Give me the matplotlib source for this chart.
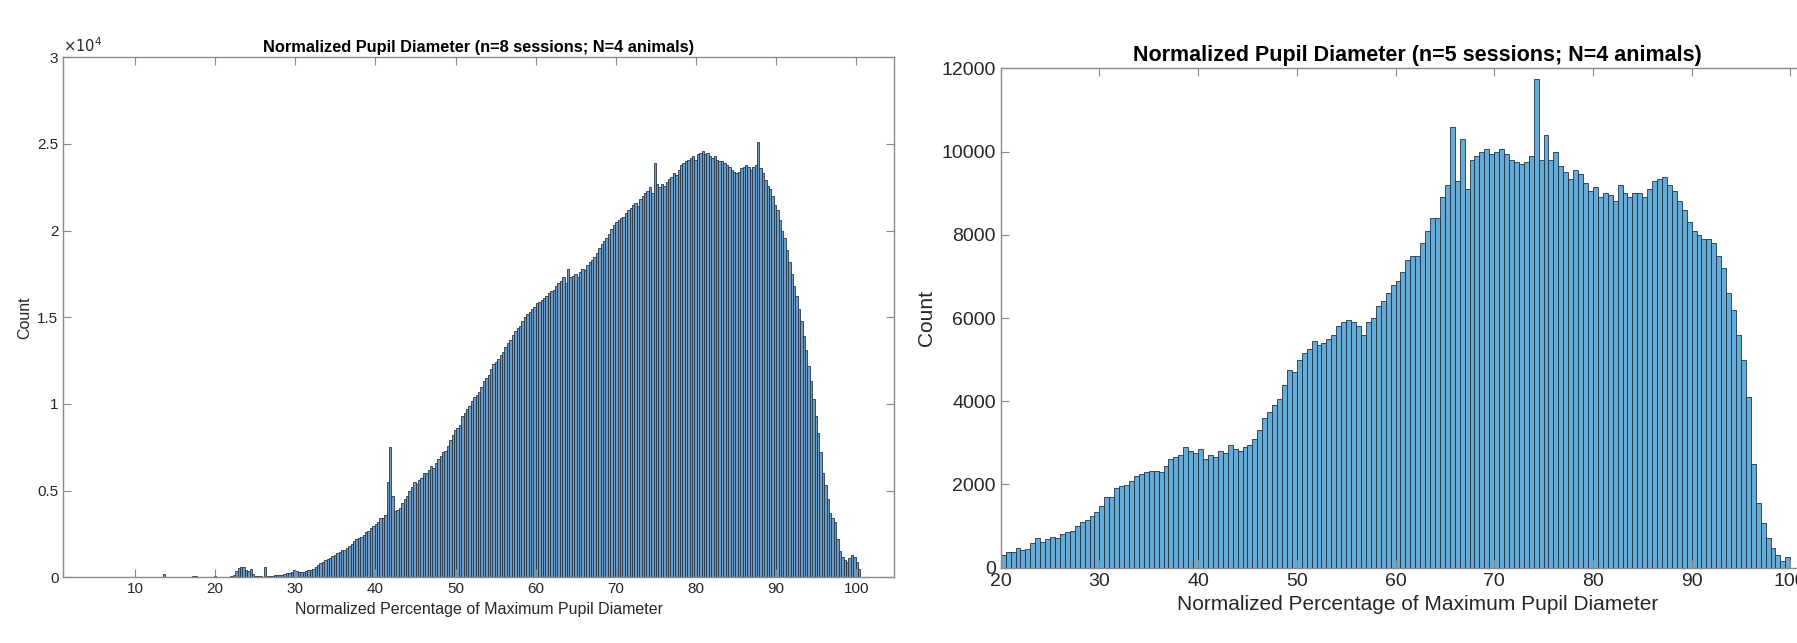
import matplotlib

matplotlib.use("Agg")
import matplotlib.pyplot as plt
import numpy as np
from matplotlib.ticker import FuncFormatter

plt.rcParams["font.family"] = ["Liberation Sans", "DejaVu Sans"]

# ---- left panel: n=8 sessions, bin width 0.3 starting at 22.2 ----
left_start = 22.2
left_width = 0.3
left_counts = [
    150, 350, 550, 600, 580, 450, 350, 500, 200, 80,
    50, 80, 30, 600, 60, 80, 100, 120, 150, 130,
    160, 200, 220, 250, 300, 400, 350, 300, 280, 300,
    350, 420, 450, 500, 600, 700, 800, 900, 1000, 1050,
    1100, 1250, 1300, 1400, 1450, 1550, 1600, 1700, 1800, 1950,
    2100, 2200, 2250, 2300, 2450, 2600, 2700, 2850, 2950, 3100,
    3200, 3400, 3450, 3600, 5500, 7500, 4700, 3800, 3900, 4000,
    4300, 4500, 4700, 5000, 5200, 5500, 5400, 5600, 5700, 6000,
    6000, 6200, 6400, 6300, 6600, 6800, 7000, 7200, 7300, 7600,
    7900, 8200, 8500, 8600, 8800, 9300, 9500, 9700, 9900, 10200,
    10400, 10500, 10700, 11000, 11300, 11500, 11700, 12000, 12300, 12400,
    12600, 12800, 13000, 13300, 13500, 13700, 14000, 14200, 14400, 14500,
    14800, 15000, 15200, 15300, 15500, 15600, 15800, 15900, 16000, 16100,
    16200, 16400, 16500, 16600, 16800, 17000, 17100, 17300, 17000, 17800,
    17300, 17400, 17500, 17300, 17600, 17800, 17700, 18000, 18200, 18300,
    18500, 18700, 19000, 19200, 19400, 19600, 19800, 20100, 20300, 20500,
    20600, 20700, 20800, 21000, 21200, 21300, 21500, 21600, 21400, 21800,
    22000, 22200, 22300, 22500, 22200, 23900, 22700, 22500, 22700, 22600,
    22800, 23000, 23100, 23300, 23200, 23500, 23800, 23900, 24000, 24100,
    24200, 24300, 24100, 24400, 24500, 24600, 24400, 24500, 24300, 24200,
    24300, 24100, 24000, 24000, 23900, 23800, 23700, 23500, 23400, 23300,
    23400, 23600, 23700, 23800, 23700, 23500, 23700, 23800, 25100, 23600,
    23300, 22900, 22600, 22400, 22000, 21500, 21200, 20600, 20000, 19600,
    18900, 18200, 17500, 16800, 16200, 15500, 14800, 13900, 13100, 12200,
    11300, 10300, 9300, 8300, 7200, 6000, 5300, 4500, 3700, 3400,
    3200, 2200, 1500, 1200, 1000, 900, 1100, 1300, 1200, 900,
    500,
]
# isolated low bars left of the main mass
left_sparse_x = [13.5, 17.1, 17.4, 18.0, 19.8, 21.3, 21.9]
left_sparse_counts = [200, 60, 60, 40, 60, 40, 60]

# ---- right panel: n=5 sessions, bin width 0.5 from 20 to 100 ----
right_start = 20.0
right_width = 0.5
right_counts = [
    310, 373, 389, 476, 429, 460, 595, 706, 627, 690,
    738, 714, 810, 849, 873, 1000, 1100, 1150, 1250, 1350,
    1480, 1700, 1690, 1920, 1960, 1990, 2080, 2200, 2250, 2300,
    2330, 2320, 2300, 2450, 2600, 2650, 2700, 2900, 2800, 2750,
    2850, 2600, 2700, 2650, 2800, 2750, 2950, 2850, 2800, 2900,
    2950, 3100, 3300, 3600, 3750, 3900, 4050, 4400, 4750, 4700,
    5000, 5150, 5250, 5450, 5350, 5400, 5500, 5600, 5800, 5900,
    5950, 5900, 5800, 5600, 5900, 6000, 6300, 6400, 6600, 6800,
    6900, 7100, 7400, 7500, 7500, 7800, 8100, 8400, 8400, 8900,
    9200, 10600, 9300, 10300, 9100, 9800, 9900, 10000, 10050, 9950,
    10000, 10050, 9950, 9800, 9750, 9700, 9750, 9900, 11750, 9800,
    10400, 9800, 10000, 9650, 9500, 9350, 9550, 9450, 9250, 9050,
    9150, 8900, 9000, 8950, 8800, 9200, 9000, 8900, 9000, 9000,
    8900, 9100, 9300, 9350, 9400, 9200, 9050, 8800, 8600, 8300,
    8100, 8000, 7900, 7900, 7800, 7500, 7200, 6600, 6200, 5600,
    5000, 4100, 2500, 1560, 1071, 714, 476, 294, 150, 250,
]

W, H = 1797, 643
fig = plt.figure(figsize=(W / 100, H / 100), dpi=100)

spine_col = "#8a8a8a"


def style_axes(ax, labelsize):
    for s in ax.spines.values():
        s.set_color(spine_col)
        s.set_linewidth(1.0)
    ax.tick_params(direction="in", top=True, right=True, length=6,
                   color=spine_col, labelsize=labelsize, labelcolor="#262626")


# left axes
axl = fig.add_axes([63.3 / W, 1 - 577.3 / H, (894 - 63.3) / W, (577.3 - 57.3) / H])
lx = left_start + left_width * np.arange(len(left_counts))
axl.bar(lx, left_counts, width=left_width, align="edge", color="#6c9cc8",
        edgecolor="#263646", linewidth=0.6)
axl.bar(left_sparse_x, left_sparse_counts, width=left_width, align="edge",
        color="#6c9cc8", edgecolor="#263646", linewidth=0.6)
axl.set_xlim(1.05, 104.7)
axl.set_ylim(0, 30000)
axl.set_xticks(np.arange(10, 101, 10))
axl.set_yticks(np.arange(0, 30001, 5000))
axl.yaxis.set_major_formatter(FuncFormatter(lambda v, p: f"{v / 1e4:g}"))
style_axes(axl, 11)
axl.set_xlabel("Normalized Percentage of Maximum Pupil Diameter", fontsize=11.5,
               color="#262626")
axl.set_ylabel("Count", fontsize=11.5, color="#262626")
axl.set_title("Normalized Pupil Diameter (n=8 sessions; N=4 animals)",
              fontsize=11.8, fontweight="bold", pad=4)
axl.text(0.0, 1.005, r"$\times10^{4}$", transform=axl.transAxes, fontsize=10.5,
         color="#262626", ha="left", va="bottom")

# right axes (cut by the figure edge)
axr = fig.add_axes([1000.7 / W, 1 - 567.7 / H, (84.5 * 9.87) / W, (567.7 - 68.3) / H])
rx = right_start + right_width * np.arange(len(right_counts))
axr.bar(rx, right_counts, width=right_width, align="edge", color="#66aad7",
        edgecolor="#1f3347", linewidth=0.6)
axr.set_xlim(20, 104.5)
axr.set_ylim(0, 12000)
axr.set_xticks(np.arange(20, 101, 10))
axr.set_yticks(np.arange(0, 12001, 2000))
style_axes(axr, 14)
axr.set_xlabel("Normalized Percentage of Maximum Pupil Diameter", fontsize=15,
               color="#262626")
axr.set_ylabel("Count", fontsize=15, color="#262626")
axr.set_title("Normalized Pupil Diameter (n=5 sessions; N=4 animals)",
              fontsize=15.5, fontweight="bold", pad=5)

fig.savefig("out.png", dpi=100)
